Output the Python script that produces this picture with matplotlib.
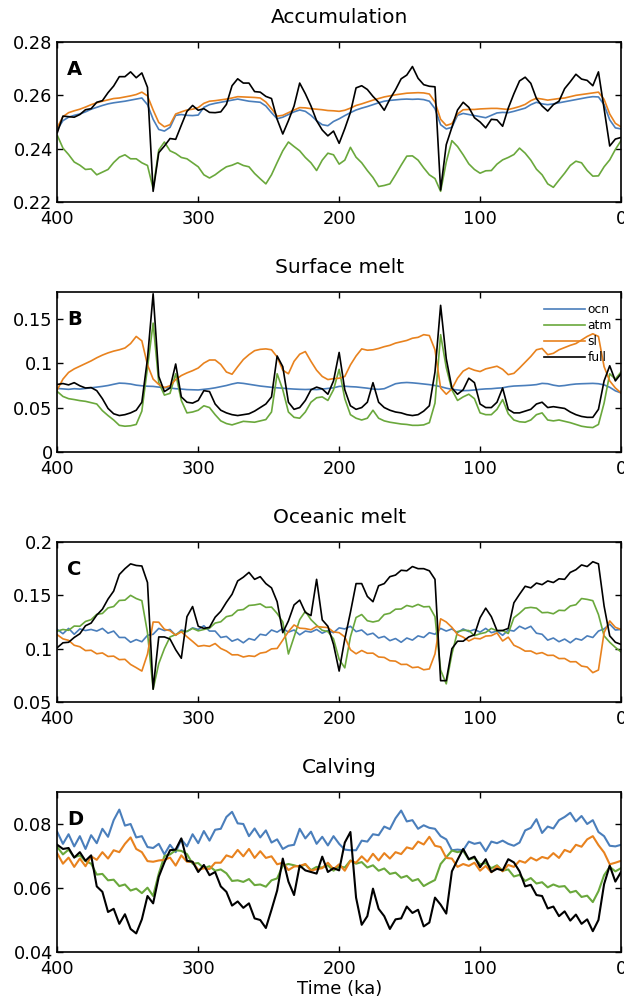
import matplotlib
matplotlib.use("Agg")
import matplotlib.pyplot as plt
import numpy as np
from matplotlib.ticker import FormatStrFormatter

plt.rcParams['font.family'] = ['DejaVu Sans']

# time axis (ka), sampled every 4 ka from 400 to 0
time_ka = np.arange(400, -1, -4)

# ---------------- A: Accumulation ----------------
acc_ocn = [
    .2472, .2505, .2518, .2525, .2530, .2538, .2548, .2555, .2562, .2568,
    .2572, .2575, .2578, .2582, .2586, .2590, .2565, .2510, .2472, .2466,
    .2480, .2525, .2528, .2525, .2524, .2526, .2555, .2565, .2570, .2574,
    .2578, .2582, .2586, .2582, .2578, .2576, .2574, .2560, .2535, .2512,
    .2518, .2528, .2538, .2545, .2540, .2525, .2505, .2490, .2486, .2502,
    .2512, .2524, .2535, .2545, .2552, .2558, .2565, .2572, .2578, .2581,
    .2583, .2585, .2586, .2585, .2586, .2584, .2578, .2550, .2490, .2474,
    .2480, .2525, .2532, .2528, .2524, .2520, .2516, .2525, .2534, .2536,
    .2535, .2540, .2546, .2552, .2565, .2574, .2568, .2565, .2568, .2572,
    .2576, .2580, .2584, .2588, .2592, .2595, .2594, .2565, .2508, .2478,
    .2474]
acc_atm = [
    .2450, .2402, .2378, .2350, .2338, .2322, .2324, .2302, .2312, .2322,
    .2348, .2368, .2377, .2362, .2362, .2347, .2337, .2250, .2395, .2425,
    .2392, .2382, .2367, .2362, .2347, .2332, .2302, .2290, .2302, .2318,
    .2332, .2338, .2347, .2337, .2332, .2307, .2287, .2268, .2302, .2348,
    .2392, .2425, .2408, .2392, .2367, .2347, .2318, .2357, .2383, .2377,
    .2342, .2357, .2405, .2368, .2347, .2318, .2292, .2258, .2262, .2268,
    .2302, .2338, .2372, .2373, .2357, .2328, .2302, .2288, .2240, .2350,
    .2430, .2408, .2377, .2343, .2322, .2308, .2317, .2318, .2342, .2358,
    .2367, .2378, .2402, .2383, .2357, .2323, .2302, .2268, .2255, .2282,
    .2308, .2337, .2353, .2347, .2318, .2297, .2298, .2332, .2358, .2397,
    .2430]
acc_sl = [
    .2480, .2520, .2535, .2542, .2548, .2556, .2565, .2572, .2578, .2583,
    .2588, .2590, .2594, .2598, .2603, .2612, .2598, .2545, .2498, .2482,
    .2490, .2530, .2538, .2545, .2548, .2554, .2570, .2578, .2580, .2583,
    .2586, .2590, .2595, .2594, .2593, .2592, .2590, .2575, .2550, .2522,
    .2525, .2535, .2545, .2554, .2553, .2550, .2548, .2546, .2543, .2542,
    .2540, .2544, .2552, .2562, .2568, .2575, .2582, .2588, .2594, .2598,
    .2602, .2605, .2608, .2609, .2610, .2609, .2605, .2575, .2510, .2487,
    .2494, .2530, .2546, .2547, .2547, .2549, .2550, .2551, .2551, .2549,
    .2547, .2552, .2558, .2566, .2580, .2589, .2586, .2582, .2585, .2588,
    .2590, .2595, .2600, .2603, .2606, .2609, .2612, .2585, .2530, .2495,
    .2482]
acc_full = [
    .2460, .2522, .2520, .2518, .2528, .2546, .2550, .2574, .2580, .2610,
    .2635, .2670, .2670, .2688, .2666, .2684, .2630, .2240, .2385, .2410,
    .2438, .2435, .2488, .2540, .2562, .2544, .2550, .2536, .2535, .2538,
    .2566, .2636, .2662, .2646, .2646, .2614, .2612, .2596, .2588, .2510,
    .2455, .2505, .2560, .2646, .2606, .2560, .2505, .2470, .2448, .2466,
    .2420, .2475, .2536, .2628, .2636, .2622, .2596, .2574, .2544, .2586,
    .2621, .2662, .2676, .2708, .2664, .2640, .2634, .2632, .2245, .2415,
    .2480, .2545, .2574, .2555, .2516, .2500, .2478, .2510, .2508, .2484,
    .2552, .2606, .2654, .2668, .2645, .2588, .2560, .2541, .2565, .2578,
    .2625, .2651, .2679, .2661, .2656, .2636, .2688, .2550, .2410, .2436,
    .2442]

# ---------------- B: Surface melt ----------------
smelt_ocn = [
    .0715, .0710, .0705, .0712, .0708, .0715, .0722, .0730, .0738, .0748,
    .0762, .0775, .0772, .0765, .0752, .0745, .0740, .0738, .0730, .0725,
    .0720, .0712, .0708, .0702, .0700, .0698, .0705, .0712, .0722, .0735,
    .0748, .0765, .0778, .0772, .0762, .0752, .0742, .0735, .0728, .0722,
    .0718, .0712, .0708, .0705, .0703, .0705, .0702, .0708, .0715, .0722,
    .0738, .0740, .0735, .0732, .0725, .0718, .0708, .0705, .0712, .0740,
    .0768, .0778, .0782, .0778, .0772, .0765, .0758, .0748, .0735, .0718,
    .0705, .0698, .0690, .0692, .0698, .0705, .0710, .0712, .0718, .0722,
    .0735, .0742, .0745, .0748, .0752, .0758, .0772, .0768, .0752, .0742,
    .0748, .0758, .0765, .0768, .0770, .0772, .0768, .0755, .0728, .0688,
    .0665]
smelt_atm = [
    .0680, .0625, .0600, .0590, .0578, .0570, .0555, .0540, .0465, .0410,
    .0360, .0300, .0290, .0295, .0310, .0460, .0950, .1450, .0780, .0640,
    .0660, .0880, .0580, .0440, .0450, .0470, .0520, .0500, .0420, .0350,
    .0320, .0305, .0325, .0345, .0340, .0335, .0350, .0365, .0450, .0880,
    .0700, .0450, .0390, .0380, .0450, .0560, .0610, .0620, .0580, .0700,
    .0930, .0600, .0420, .0380, .0360, .0380, .0470, .0380, .0350, .0335,
    .0325, .0315, .0310, .0300, .0300, .0305, .0330, .0550, .1320, .0950,
    .0700, .0580, .0620, .0650, .0600, .0440, .0420, .0420, .0480, .0590,
    .0430, .0360, .0340, .0335, .0360, .0420, .0440, .0360, .0350, .0360,
    .0345, .0330, .0310, .0290, .0280, .0275, .0310, .0550, .0880, .0820,
    .0900]
smelt_sl = [
    .0700, .0820, .0895, .0935, .0965, .0995, .1025, .1060, .1090, .1115,
    .1135, .1150, .1170, .1220, .1300, .1250, .0980, .0820, .0760, .0725,
    .0745, .0815, .0860, .0890, .0915, .0945, .1000, .1035, .1035, .0985,
    .0900, .0875, .0960, .1040, .1095, .1140, .1155, .1160, .1150, .1070,
    .0920, .0880, .1020, .1100, .1130, .1020, .0920, .0850, .0815, .0825,
    .0830, .0850, .0980, .1080, .1160, .1145, .1150, .1165, .1185, .1200,
    .1225, .1240, .1255, .1280, .1290, .1320, .1310, .1150, .0720, .0650,
    .0710, .0830, .0910, .0945, .0920, .0905, .0935, .0950, .0965, .0930,
    .0870, .0885, .0945, .1010, .1075, .1150, .1165, .1095, .1110, .1150,
    .1175, .1200, .1220, .1260, .1300, .1330, .1300, .0960, .0800, .0720,
    .0665]
smelt_full = [
    .0760, .0770, .0755, .0780, .0745, .0720, .0725, .0690, .0600, .0490,
    .0430, .0410, .0420, .0440, .0470, .0560, .1050, .1780, .0850, .0680,
    .0720, .0990, .0620, .0560, .0550, .0580, .0690, .0680, .0540, .0470,
    .0440, .0420, .0410, .0420, .0430, .0460, .0500, .0540, .0620, .1080,
    .0960, .0560, .0480, .0500, .0580, .0700, .0730, .0710, .0650, .0800,
    .1120, .0700, .0520, .0480, .0500, .0560, .0780, .0560, .0500, .0470,
    .0450, .0440, .0420, .0410, .0420, .0460, .0520, .0900, .1650, .1050,
    .0720, .0650, .0700, .0830, .0780, .0540, .0500, .0500, .0560, .0720,
    .0480, .0440, .0440, .0460, .0480, .0540, .0560, .0500, .0510, .0500,
    .0490, .0450, .0420, .0400, .0390, .0390, .0480, .0800, .0970, .0800,
    .0880]

# ---------------- C: Oceanic melt ----------------
omelt_ocn = [
    .1180, .1140, .1190, .1135, .1185, .1170, .1180, .1165, .1190, .1145,
    .1165, .1105, .1105, .1060, .1085, .1065, .1125, .1135, .1190, .1170,
    .1180, .1125, .1175, .1160, .1195, .1180, .1215, .1165, .1165, .1105,
    .1115, .1070, .1090, .1055, .1095, .1080, .1135, .1125, .1175, .1155,
    .1190, .1155, .1175, .1130, .1165, .1155, .1180, .1145, .1170, .1150,
    .1195, .1185, .1210, .1160, .1175, .1130, .1145, .1100, .1115, .1075,
    .1095, .1060, .1100, .1080, .1120, .1105, .1150, .1135, .1190, .1165,
    .1185, .1150, .1185, .1160, .1180, .1155, .1190, .1150, .1165, .1125,
    .1175, .1165, .1210, .1185, .1210, .1145, .1135, .1080, .1100, .1065,
    .1090, .1055, .1095, .1080, .1120, .1105, .1165, .1185, .1230, .1175,
    .1180]
omelt_atm = [
    .1165, .1180, .1172, .1212, .1210, .1255, .1272, .1322, .1330, .1382,
    .1395, .1452, .1455, .1500, .1470, .1450, .1150, .0620, .0860, .1000,
    .1110, .1132, .1160, .1162, .1190, .1167, .1180, .1192, .1240, .1252,
    .1300, .1312, .1360, .1367, .1405, .1410, .1420, .1387, .1390, .1330,
    .1250, .0950, .1110, .1272, .1350, .1272, .1220, .1172, .1160, .1092,
    .0900, .0820, .1110, .1292, .1320, .1262, .1250, .1262, .1320, .1332,
    .1370, .1372, .1405, .1392, .1415, .1392, .1395, .1300, .0800, .0670,
    .0950, .1160, .1172, .1170, .1122, .1140, .1152, .1190, .1167, .1170,
    .1142, .1290, .1332, .1380, .1387, .1380, .1337, .1340, .1327, .1360,
    .1357, .1400, .1412, .1470, .1462, .1450, .1320, .1120, .1060, .1012,
    .0970]
omelt_sl = [
    .1130, .1092, .1078, .1032, .1018, .0982, .0985, .0952, .0960, .0927,
    .0930, .0897, .0900, .0852, .0822, .0790, .0950, .1250, .1248, .1182,
    .1168, .1127, .1158, .1112, .1068, .1022, .1030, .1022, .1048, .1002,
    .0978, .0942, .0943, .0922, .0933, .0927, .0958, .0967, .0998, .1002,
    .1080, .1160, .1222, .1192, .1188, .1177, .1208, .1202, .1198, .1157,
    .1150, .1110, .0990, .0952, .0983, .0957, .0958, .0922, .0918, .0887,
    .0883, .0852, .0853, .0822, .0828, .0802, .0810, .0950, .1280, .1250,
    .1200, .1132, .1108, .1072, .1098, .1092, .1118, .1122, .1148, .1072,
    .1108, .1032, .1008, .0977, .0978, .0952, .0963, .0937, .0938, .0907,
    .0908, .0877, .0878, .0837, .0828, .0775, .0800, .1150, .1260, .1200,
    .1180]
omelt_full = [
    .1010, .1055, .1060, .1105, .1140, .1215, .1240, .1315, .1370, .1465,
    .1540, .1695, .1750, .1795, .1780, .1775, .1620, .0620, .1110, .1110,
    .1090, .0990, .0910, .1300, .1395, .1210, .1190, .1200, .1295, .1350,
    .1435, .1510, .1635, .1670, .1715, .1650, .1675, .1610, .1570, .1440,
    .1150, .1260, .1410, .1455, .1340, .1310, .1650, .1270, .1210, .1040,
    .0790, .1090, .1340, .1610, .1610, .1490, .1440, .1590, .1610, .1675,
    .1690, .1735, .1730, .1770, .1750, .1750, .1730, .1650, .0700, .0700,
    .1000, .1070, .1070, .1110, .1130, .1290, .1380, .1300, .1170, .1170,
    .1190, .1430, .1510, .1585, .1570, .1615, .1600, .1635, .1620, .1655,
    .1650, .1715, .1740, .1785, .1770, .1815, .1795, .1400, .1120, .1060,
    .1040]

# ---------------- D: Calving ----------------
calv_ocn = [
    .0775, .0738, .0768, .0730, .0762, .0722, .0765, .0740, .0785, .0760,
    .0812, .0845, .0795, .0800, .0758, .0762, .0728, .0725, .0738, .0705,
    .0735, .0712, .0752, .0730, .0768, .0740, .0778, .0748, .0782, .0785,
    .0822, .0838, .0802, .0800, .0762, .0786, .0758, .0780, .0742, .0752,
    .0722, .0732, .0735, .0785, .0755, .0776, .0738, .0760, .0733, .0762,
    .0738, .0720, .0718, .0718, .0748, .0745, .0768, .0765, .0792, .0784,
    .0818, .0842, .0808, .0812, .0785, .0796, .0788, .0785, .0762, .0752,
    .0718, .0720, .0718, .0745, .0738, .0742, .0715, .0745, .0740, .0748,
    .0738, .0732, .0742, .0780, .0788, .0815, .0772, .0792, .0786, .0812,
    .0822, .0835, .0808, .0825, .0800, .0812, .0775, .0762, .0732, .0730,
    .0735]
calv_atm = [
    .0728, .0705, .0720, .0696, .0702, .0684, .0676, .0642, .0644, .0624,
    .0626, .0606, .0611, .0592, .0598, .0584, .0601, .0575, .0645, .0700,
    .0705, .0718, .0716, .0706, .0676, .0678, .0662, .0668, .0654, .0658,
    .0646, .0622, .0624, .0619, .0628, .0609, .0611, .0604, .0624, .0630,
    .0670, .0675, .0671, .0666, .0674, .0656, .0666, .0664, .0671, .0654,
    .0668, .0664, .0686, .0676, .0681, .0664, .0671, .0654, .0661, .0644,
    .0648, .0632, .0638, .0622, .0628, .0606, .0616, .0625, .0675, .0696,
    .0717, .0712, .0716, .0689, .0694, .0674, .0678, .0662, .0671, .0654,
    .0658, .0636, .0641, .0622, .0631, .0614, .0618, .0602, .0611, .0604,
    .0606, .0586, .0591, .0572, .0576, .0556, .0590, .0640, .0666, .0652,
    .0662]
calv_sl = [
    .0708, .0676, .0695, .0666, .0692, .0668, .0699, .0688, .0712, .0692,
    .0718, .0712, .0738, .0758, .0722, .0712, .0684, .0682, .0686, .0688,
    .0695, .0670, .0702, .0682, .0682, .0656, .0662, .0659, .0679, .0679,
    .0702, .0696, .0719, .0699, .0722, .0694, .0715, .0694, .0699, .0674,
    .0679, .0656, .0667, .0669, .0675, .0654, .0659, .0662, .0679, .0659,
    .0674, .0654, .0685, .0679, .0699, .0682, .0707, .0686, .0709, .0692,
    .0712, .0706, .0727, .0722, .0745, .0736, .0760, .0732, .0728, .0694,
    .0692, .0666, .0675, .0669, .0679, .0654, .0669, .0649, .0669, .0652,
    .0672, .0666, .0685, .0679, .0695, .0686, .0697, .0692, .0709, .0694,
    .0719, .0712, .0735, .0729, .0752, .0762, .0734, .0711, .0674, .0679,
    .0685]
calv_full = [
    .0735, .0722, .0725, .0695, .0712, .0685, .0702, .0605, .0588, .0525,
    .0535, .0488, .0518, .0472, .0458, .0502, .0575, .0552, .0635, .0680,
    .0718, .0720, .0755, .0685, .0682, .0650, .0672, .0640, .0650, .0605,
    .0588, .0545, .0558, .0538, .0552, .0505, .0500, .0475, .0532, .0592,
    .0692, .0620, .0578, .0670, .0655, .0650, .0645, .0698, .0650, .0662,
    .0655, .0742, .0775, .0570, .0485, .0512, .0598, .0535, .0512, .0472,
    .0502, .0505, .0542, .0522, .0532, .0480, .0492, .0570, .0548, .0520,
    .0652, .0688, .0722, .0690, .0698, .0665, .0690, .0650, .0660, .0655,
    .0690, .0680, .0652, .0605, .0610, .0578, .0575, .0536, .0542, .0512,
    .0527, .0498, .0517, .0488, .0502, .0465, .0500, .0612, .0670, .0620,
    .0650]

titles = ["Accumulation", "Surface melt", "Oceanic melt", "Calving"]
letters = ["A", "B", "C", "D"]
series_labels = ["ocn", "atm", "sl", "full"]
colors = ["#4a7ebb", "#6aa83c", "#e8821e", "#000000"]
panels = [
    (acc_ocn, acc_atm, acc_sl, acc_full),
    (smelt_ocn, smelt_atm, smelt_sl, smelt_full),
    (omelt_ocn, omelt_atm, omelt_sl, omelt_full),
    (calv_ocn, calv_atm, calv_sl, calv_full),
]
ylims = [(0.22, 0.28), (0.0, 0.18), (0.05, 0.2), (0.04, 0.09)]
yticks = [[0.22, 0.24, 0.26, 0.28], [0, 0.05, 0.1, 0.15],
          [0.05, 0.1, 0.15, 0.2], [0.04, 0.06, 0.08]]
xticks = [400, 300, 200, 100, 0]

W, H = 624, 1002
fig = plt.figure(figsize=(W / 100, H / 100), dpi=100)
left = 57.3 / W
width = (621 - 57.3) / W
tops = [42, 292, 542, 792]
ph = 160

for i in range(4):
    ax = fig.add_axes([left, 1 - (tops[i] + ph) / H, width, ph / H])
    lw = 1.2 if i < 3 else 1.5
    for vals, c, lab in zip(panels[i], colors, series_labels):
        ax.plot(time_ka, vals, color=c, lw=lw, label=lab, solid_joinstyle='round')
    ax.set_xlim(400, 0)
    ax.set_ylim(*ylims[i])
    ax.set_xticks(xticks)
    ax.set_yticks(yticks[i])
    ax.yaxis.set_major_formatter(FormatStrFormatter('%g'))
    ax.tick_params(direction='in', top=True, right=True, length=4, width=1,
                   labelsize=12.8)
    ax.tick_params(axis='x', pad=6)
    ax.tick_params(axis='y', pad=3.3)
    for s in ax.spines.values():
        s.set_linewidth(1.2)
    ax.set_title(titles[i], fontsize=14.5, pad=14)
    ax.text(0.017, 0.89, letters[i], transform=ax.transAxes, fontsize=14,
            fontweight='bold', va='top', ha='left')
    if i == 1:
        ax.legend(loc='upper left', bbox_to_anchor=(0.8545, 0.96), frameon=False,
                  fontsize=8.8, handlelength=3.36, labelspacing=0.25,
                  borderaxespad=0, handletextpad=0.2)
    if i == 3:
        ax.set_xlabel("Time (ka)", fontsize=13, labelpad=1)

fig.savefig("out.png", dpi=100)
